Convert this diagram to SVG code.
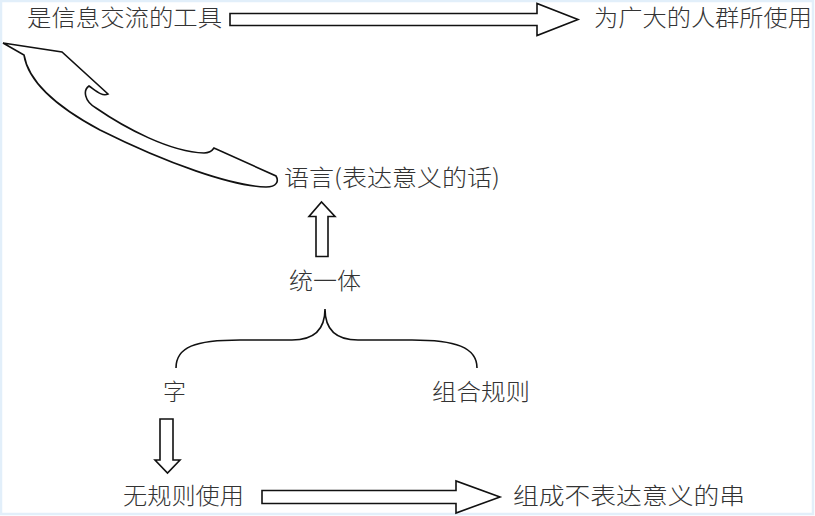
<svg xmlns="http://www.w3.org/2000/svg" width="815" height="516" viewBox="0 0 815 516">
<style>
.t{font-family:"Noto Sans CJK SC","Liberation Sans",sans-serif;font-size:23px;font-weight:300;fill:#333;}
.s{fill:#fff;stroke:#111;stroke-width:1.6;stroke-linejoin:miter;}
.b{fill:none;stroke:#111;stroke-width:1.6;}
</style>
<rect x="1" y="1" width="812" height="513" fill="#fff" stroke="#e2effa" stroke-width="2.5"/>
<g id="connectors">
<path class="s" d="M230,13.5 H537 V3.5 L578,19.5 L537,35.5 V25.5 H230 Z"/>
<path class="s" d="M3,43 L62,52 L108,94 C102,97 95,90 89,86 C83,90 84,101 96,108 C125,128 170,152 204,153 C209,153 212,151 214,148 L276,176 C279,181 277,187 266,187 C232,186 168,164 100,130 C55,106 28,80 24,55 Z"/>
<path class="s" d="M316,256.5 V216.5 H309 L321.5,202 L335,216.5 H328 V256.5 Z"/>
<path class="b" d="M176,368 C176,347 195,340 240,340 L292,340 C315,340 325,328 325,309 C325,328 335,340 358,340 L412,340 C455,340 477,347 477,368"/>
<path class="s" d="M160,419 V460 H155 L167.5,473 L180,460 H173 V419 Z"/>
<path class="s" d="M262,490.5 H456 V481 L500,497 L456,513 V503.5 H262 Z"/>
</g>
<g id="n1"><text class="t" x="27" y="26" textLength="195" lengthAdjust="spacingAndGlyphs">是信息交流的工具</text></g>
<g id="n2"><text class="t" x="594" y="26" textLength="218" lengthAdjust="spacingAndGlyphs">为广大的人群所使用</text></g>
<g id="n3"><text class="t" x="284" y="186" textLength="216" lengthAdjust="spacingAndGlyphs">语言(表达意义的话)</text></g>
<g id="n4"><text class="t" x="289" y="289" textLength="72" lengthAdjust="spacingAndGlyphs">统一体</text></g>
<g id="n5"><text class="t" x="163" y="400">字</text></g>
<g id="n6"><text class="t" x="432" y="400" textLength="98" lengthAdjust="spacingAndGlyphs">组合规则</text></g>
<g id="n7"><text class="t" x="123" y="504" textLength="121" lengthAdjust="spacingAndGlyphs">无规则使用</text></g>
<g id="n8"><text class="t" x="513" y="504" textLength="232" lengthAdjust="spacingAndGlyphs">组成不表达意义的串</text></g>
</svg>
